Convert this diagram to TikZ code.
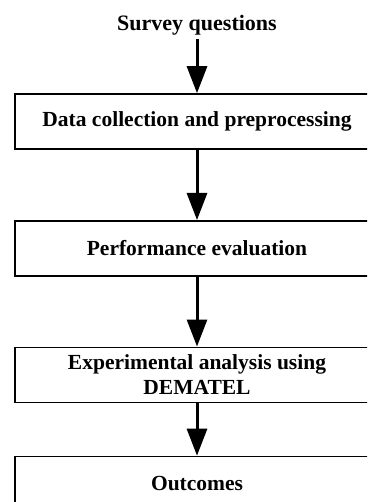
\documentclass[tikz,border=0pt]{standalone}
\usepackage{fontspec}
\setmainfont{Liberation Serif}
\usetikzlibrary{arrows.meta,positioning}
\tikzset{
  stageBox/.style={draw,line width=1.6pt,minimum width=364pt,minimum height=55pt,
    align=center,font=\bfseries\fontsize{21.5}{24.5}\selectfont},
  flowArrow/.style={line width=3pt,-{Triangle[length=27pt,width=20pt]}}
}

\begin{document}
\begin{tikzpicture}[x=1pt,y=1pt]
        \useasboundingbox (0,0) rectangle (367,-502);
        \clip (0,0) rectangle (367,-502);
        % steps of the study
        \node[font=\bfseries\fontsize{22}{24}\selectfont,anchor=base] (survey) at (197,-31) {Survey questions};
        \node[stageBox] (dataC) at (197,-121.5) {Data collection and preprocessing};
        \node[stageBox] (perfE) at (197,-248.3) {Performance evaluation};
        \node[stageBox] (demA) at (197,-374.8) {Experimental analysis using\\DEMATEL};
        \node[stageBox] (outC) at (197,-484) {Outcomes};
        % arrows
        \draw[flowArrow] (survey) -- (dataC);
        \draw[flowArrow] (dataC) -- (perfE);
        \draw[flowArrow] (perfE) -- (demA);
        \draw[flowArrow] (demA) -- (outC);
\end{tikzpicture}
\end{document}
